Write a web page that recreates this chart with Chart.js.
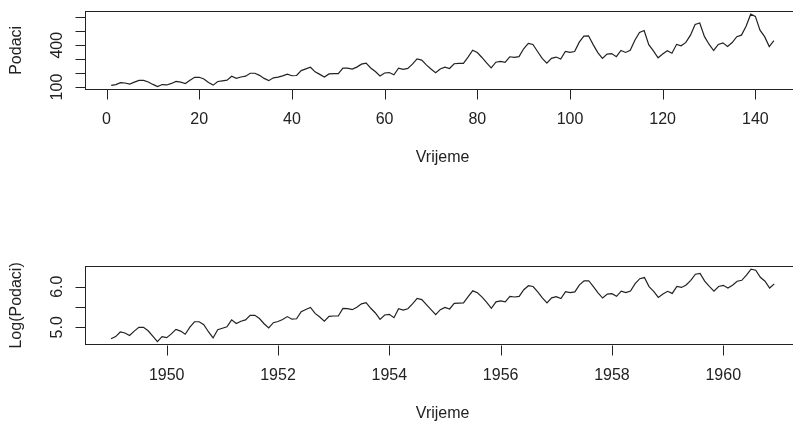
<!DOCTYPE html>
<html>
<head>
<meta charset="utf-8">
<script src="https://cdn.jsdelivr.net/npm/chart.js@4/dist/chart.umd.min.js"></script>
<style>
  html, body { margin: 0; padding: 0; background: #fff; overflow: hidden; width: 793px; height: 423px; }
  .panel { position: absolute; left: 0; }
</style>
</head>
<body>
<canvas id="topChart" class="panel" width="820" height="211" style="top:0"></canvas>
<canvas id="logChart" class="panel" width="820" height="212" style="top:211px"></canvas>
<script>
// ---- Data: monthly passengers, Jan 1949 .. Dec 1960 ----
const startYear = 1949;
const passengers = [
  112, 118, 132, 129, 121, 135, 148, 148, 136, 119, 104, 118,
  115, 126, 141, 135, 125, 149, 170, 170, 158, 133, 114, 140,
  145, 150, 178, 163, 172, 178, 199, 199, 184, 162, 146, 166,
  171, 180, 193, 181, 183, 218, 230, 242, 209, 191, 172, 194,
  196, 196, 236, 235, 229, 243, 264, 272, 237, 211, 180, 201,
  204, 188, 235, 227, 234, 264, 302, 293, 259, 229, 203, 229,
  242, 233, 267, 269, 270, 315, 364, 347, 312, 274, 237, 278,
  284, 277, 317, 313, 318, 374, 413, 405, 355, 306, 271, 306,
  315, 301, 356, 348, 355, 422, 465, 467, 404, 347, 305, 336,
  340, 318, 362, 348, 363, 435, 491, 505, 404, 359, 310, 337,
  360, 342, 406, 396, 420, 472, 548, 559, 463, 407, 362, 405,
  417, 391, 419, 461, 472, 535, 622, 606, 508, 461, 390, 432
];

// ---- Axis ticks ----
const topXTicks = [0, 20, 40, 60, 80, 100, 120, 140];
const topYTicks = [100, 200, 300, 400, 500, 600];
const topYLabels = ["100", "", "", "400", "", ""];
const logXTicks = [1950, 1952, 1954, 1956, 1958, 1960];
const logYTicks = [5.0, 5.5, 6.0];
const logYLabels = ["5.0", "", "6.0"];

const xLabel = "Vrijeme";
const topYTitle = "Podaci";
const logYTitle = "Log(Podaci)";

const FONT = '16px "Liberation Sans", Arial, sans-serif';
const INK = "#222";

// R style axes: box, ticks outside, rotated y labels
function rAxes(opts) {
  return {
    id: "rAxes",
    afterDraw(chart) {
      const ctx = chart.ctx;
      const a = chart.chartArea;
      const xs = chart.scales.x, ys = chart.scales.y;
      ctx.save();
      ctx.strokeStyle = INK;
      ctx.lineWidth = 1;
      ctx.strokeRect(Math.round(a.left) + 0.5, Math.round(a.top) + 0.5,
        Math.round(a.right - a.left), Math.round(a.bottom - a.top));

      // x axis
      const yb = Math.round(a.bottom) + 0.5;
      ctx.beginPath();
      opts.xTicks.forEach(v => {
        const px = Math.round(xs.getPixelForValue(v)) + 0.5;
        ctx.moveTo(px, yb); ctx.lineTo(px, yb + 10);
      });
      ctx.stroke();

      ctx.fillStyle = INK;
      ctx.font = FONT;
      ctx.textAlign = "center";
      ctx.textBaseline = "alphabetic";
      opts.xTicks.forEach(v => {
        ctx.fillText(String(v), xs.getPixelForValue(v), a.bottom + 35);
      });
      ctx.fillText(xLabel, (a.left + a.right) / 2, a.bottom + 73);

      // y axis
      const xl = Math.round(a.left) + 0.5;
      ctx.beginPath();
      opts.yTicks.forEach(v => {
        const py = Math.round(ys.getPixelForValue(v)) + 0.5;
        ctx.moveTo(xl, py); ctx.lineTo(xl - 10, py);
      });
      ctx.stroke();

      opts.yTicks.forEach((v, i) => {
        if (!opts.yLabels[i]) return;
        ctx.save();
        ctx.translate(a.left - 23, ys.getPixelForValue(v));
        ctx.rotate(-Math.PI / 2);
        ctx.fillText(opts.yLabels[i], 0, 0);
        ctx.restore();
      });

      ctx.save();
      ctx.translate(21, (a.top + a.bottom) / 2);
      ctx.rotate(-Math.PI / 2);
      ctx.fillText(opts.yTitle, 0, 0);
      ctx.restore();
      ctx.restore();
    }
  };
}

function makeChart(id, points, xr, yr, padding, axisOpts) {
  return new Chart(document.getElementById(id), {
    type: "line",
    data: {
      datasets: [{
        data: points,
        borderColor: "#222",
        borderWidth: 1.2,
        pointRadius: 0,
        tension: 0,
        fill: false
      }]
    },
    options: {
      responsive: false,
      animation: false,
      layout: { padding: padding },
      plugins: { legend: { display: false }, tooltip: { enabled: false } },
      scales: {
        x: { type: "linear", min: xr[0], max: xr[1], display: false },
        y: { type: "linear", min: yr[0], max: yr[1], display: false }
      }
    },
    plugins: [rAxes(axisOpts)]
  });
}

// R default axis limits: data range extended by 4% on each side
function rRange(vals) {
  const lo = Math.min(...vals), hi = Math.max(...vals);
  const d = (hi - lo) * 0.04;
  return [lo - d, hi + d];
}

const idx = passengers.map((v, i) => i + 1);
const times = passengers.map((v, i) => startYear + i / 12);
const logs = passengers.map(v => Math.log(v));

makeChart("topChart",
  passengers.map((v, i) => ({ x: idx[i], y: v })),
  rRange(idx), rRange(passengers),
  { left: 84.7, top: 11.3, right: 19.6, bottom: 121.6 },
  { xTicks: topXTicks, yTicks: topYTicks, yLabels: topYLabels, yTitle: topYTitle });

makeChart("logChart",
  logs.map((v, i) => ({ x: times[i], y: v })),
  rRange(times), rRange(logs),
  { left: 84.5, top: 55.2, right: 19.2, bottom: 78.4 },
  { xTicks: logXTicks, yTicks: logYTicks, yLabels: logYLabels, yTitle: logYTitle });
</script>
</body>
</html>
